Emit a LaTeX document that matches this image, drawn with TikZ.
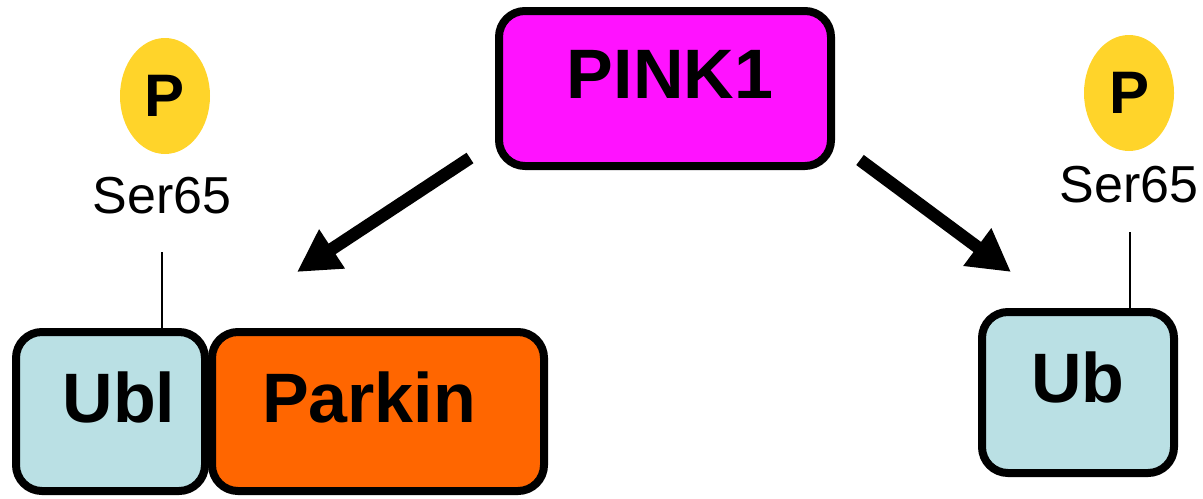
\documentclass[tikz,border=0pt]{standalone}
\usepackage{fontspec}
\setmainfont{Liberation Sans}
\usetikzlibrary{shapes.geometric,arrows.meta}
\definecolor{pinkc}{RGB}{255,18,255}
\definecolor{ubblue}{RGB}{186,224,228}
\definecolor{parkorange}{RGB}{255,102,0}
\definecolor{pyellow}{RGB}{255,212,42}
\tikzset{
  protbox/.style={draw=black, line width=4pt, rounded corners=13pt, inner sep=0pt},
  bigtxt/.style={font=\fontsize{35}{40}\selectfont\bfseries, inner sep=0pt},
  phos/.style={ellipse, fill=pyellow, inner sep=0pt, minimum width=45pt, minimum height=58pt, font=\fontsize{30}{34}\selectfont\bfseries},
  sertxt/.style={font=\fontsize{26}{30}\selectfont, inner sep=0pt},
  thinline/.style={draw=black, line width=1.2pt},
  bigarrow/.style={draw=black, line width=6.3pt, -{Triangle[length=21pt,width=22pt]}}
}
\begin{document}
\begin{tikzpicture}[x=0.5pt,y=-0.5pt]
\useasboundingbox (0,0) rectangle (1203,498);
% boxes
\node[protbox, fill=pinkc, minimum width=166pt, minimum height=77.5pt] (pink1) at (665,88.5) {};
\node[protbox, fill=ubblue, minimum width=94.5pt, minimum height=79.5pt] (ubl) at (110.5,411.5) {};
\node[protbox, fill=parkorange, minimum width=166pt, minimum height=79.5pt] (parkin) at (378,411.5) {};
\node[protbox, fill=ubblue, minimum width=96pt, minimum height=80.5pt] (ub) at (1078,392.5) {};
% labels
\node[bigtxt] (pink1t) at (670,74) {PINK1};
\node[bigtxt] (ublt) at (119,397) {Ubl};
\node[bigtxt] (parkint) at (369,397) {Parkin};
\node[bigtxt] (ubt) at (1078,377) {Ub};
% phosphates
\node[phos] (p1) at (165,96) {P};
\node[phos] (p2) at (1129,93) {P};
\node[sertxt] (ser1) at (162,196) {Ser65};
\node[sertxt] (ser2) at (1129,185) {Ser65};
% thin connectors
\coordinate (c1) at (162,252);
\coordinate (c2) at (1130,232);
\draw[thinline] (c1) -- (c1 |- ubl.north);
\draw[thinline] (c2) -- (c2 |- ub.north);
% arrows
\coordinate (a1s) at (470,158);
\coordinate (a1e) at (297,272);
\coordinate (a2s) at (860,160);
\coordinate (a2e) at (1011,272);
\draw[bigarrow] (a1s) -- (a1e);
\draw[bigarrow] (a2s) -- (a2e);
\end{tikzpicture}
\end{document}
